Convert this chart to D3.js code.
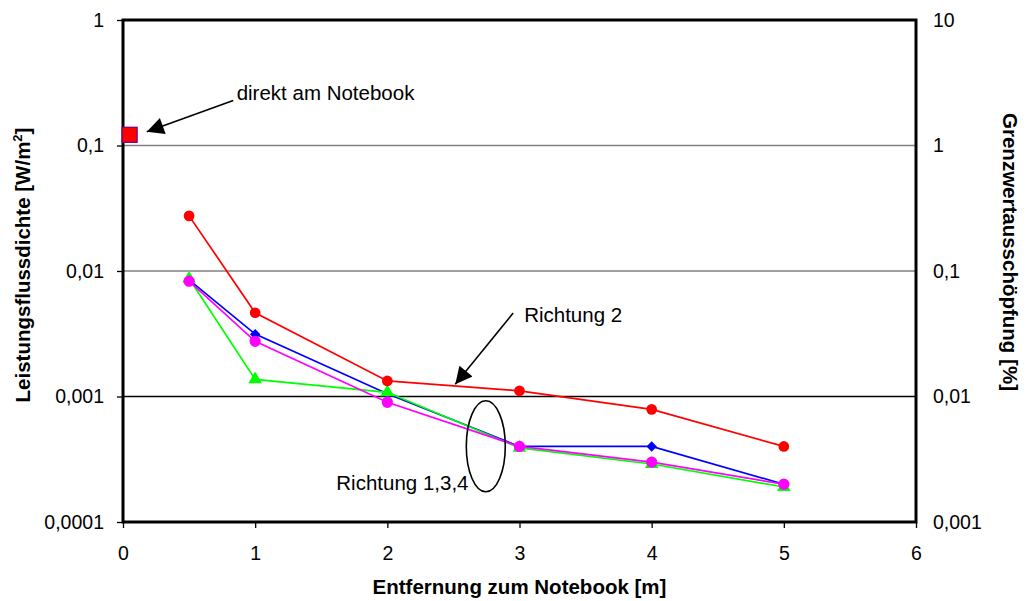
<!DOCTYPE html>
<html>
<head>
<meta charset="utf-8">
<script src="https://cdn.jsdelivr.net/npm/d3@7"></script>
<style>
  body { margin: 0; background: #fff; }
  text { font-family: "Liberation Sans", Arial, sans-serif; }
</style>
</head>
<body>
<div id="chart"></div>
<script>

// distance to notebook [m]
var distances = [0.5, 1, 2, 3, 4, 5];

// power flux density [W/m2] per direction
var richtung1 = [0.0085, 0.00314, 0.00105, 0.0004, 0.0004, 0.0002];
var richtung2 = [0.0275, 0.00465, 0.00133, 0.00111, 0.00079, 0.0004];
var richtung3 = [0.0087, 0.00137, 0.00108, 0.00039, 0.00029, 0.00019];
var richtung4 = [0.0083, 0.00275, 0.0009, 0.0004, 0.0003, 0.0002];

// measurement directly at the notebook
var direkt = [{ x: 0.05, y: 0.1217 }];

var xTicks = [0, 1, 2, 3, 4, 5, 6];
var yTicksLeft = [1, 0.1, 0.01, 0.001, 0.0001];
var yTicksRight = [10, 1, 0.1, 0.01, 0.001];

var margin = {top: 20, right: 110, bottom: 79, left: 123},
    width = 1026 - margin.left - margin.right,
    height = 601 - margin.top - margin.bottom;

var svg = d3.select("#chart")
  .append("svg")
    .attr("width", 1026)
    .attr("height", 601);

var g = svg.append("g")
    .attr("transform", "translate(" + margin.left + "," + margin.top + ")");

var x = d3.scaleLinear().domain([0, 6]).range([0, width]);
var y = d3.scaleLog().domain([0.0001, 1]).range([height, 0]);
var y2 = d3.scaleLog().domain([0.001, 10]).range([height, 0]);

function comma(v) { return String(v).replace(".", ","); }

// gridlines
g.selectAll(".grid")
  .data([0.1, 0.01, 0.001])
  .enter().append("line")
    .attr("x1", 0)
    .attr("x2", width)
    .attr("y1", function(d) { return y(d); })
    .attr("y2", function(d) { return y(d); })
    .attr("stroke", function(d) { return d == 0.001 ? "#000" : "#808080"; })
    .attr("stroke-width", 1.3);

// axes
var xAxis = g.append("g")
  .attr("transform", "translate(0," + height + ")")
  .call(d3.axisBottom(x).tickValues(xTicks).tickSize(6).tickPadding(18).tickFormat(d3.format("d")));

var yAxis = g.append("g")
  .call(d3.axisLeft(y).tickValues(yTicksLeft).tickSize(6).tickPadding(13).tickFormat(comma));

var yAxis2 = g.append("g")
  .attr("transform", "translate(" + width + ",0)")
  .call(d3.axisRight(y2).tickValues(yTicksRight).tickSize(0).tickPadding(17).tickFormat(comma));

[xAxis, yAxis, yAxis2].forEach(function(a) {
  a.select(".domain").remove();
  a.selectAll("text").attr("font-size", 19.5).attr("fill", "#000")
    .style("font-family", "'Liberation Sans', Arial, sans-serif");
  a.selectAll("line").attr("stroke", "#000").attr("stroke-width", 1.3);
});

// frame
g.append("rect")
  .attr("width", width)
  .attr("height", height)
  .attr("fill", "none")
  .attr("stroke", "#000")
  .attr("stroke-width", 3);

// series (diamond = square turned 45 degrees)
var series = [
  { name: "Richtung 1", values: richtung1, color: "#0000ff", shape: d3.symbolSquare, size: 55, rot: 45 },
  { name: "Richtung 3", values: richtung3, color: "#00ff00", shape: d3.symbolTriangle, size: 80, rot: 0 },
  { name: "Richtung 4", values: richtung4, color: "#ff00ff", shape: d3.symbolCircle, size: 100, rot: 0 },
  { name: "Richtung 2", values: richtung2, color: "#ff0000", shape: d3.symbolCircle, size: 90, rot: 0 }
];

var line = d3.line()
  .x(function(d) { return x(d.x); })
  .y(function(d) { return y(d.y); });

series.forEach(function(s) {
  var pts = distances.map(function(d, i) { return { x: d, y: s.values[i] }; });
  g.append("path")
    .datum(pts)
    .attr("d", line)
    .attr("fill", "none")
    .attr("stroke", s.color)
    .attr("stroke-width", 1.7);
  g.selectAll(".pt-" + s.name.replace(" ", ""))
    .data(pts)
    .enter().append("path")
      .attr("transform", function(d) {
        return "translate(" + x(d.x) + "," + y(d.y) + ") rotate(" + s.rot + ")";
      })
      .attr("d", d3.symbol().type(s.shape).size(s.size))
      .attr("fill", s.color);
});

// direct measurement square
g.selectAll(".direkt")
  .data(direkt)
  .enter().append("rect")
    .attr("x", function(d) { return x(d.x) - 7.5; })
    .attr("y", function(d) { return y(d.y) - 7.5; })
    .attr("width", 15)
    .attr("height", 15)
    .attr("fill", "#ff0000")
    .attr("stroke", "#800080")
    .attr("stroke-width", 1.3);

// arrow head
svg.append("defs").append("marker")
    .attr("id", "arrow")
    .attr("viewBox", "0 0 10 10")
    .attr("refX", 10)
    .attr("refY", 5)
    .attr("markerWidth", 24)
    .attr("markerHeight", 17)
    .attr("markerUnits", "userSpaceOnUse")
    .attr("orient", "auto")
  .append("path")
    .attr("d", "M0,0 L10,5 L0,10 z")
    .attr("fill", "#000");

// annotations (positions in data space)
function arrow(x1, y1, x2, y2) {
  g.append("line")
    .attr("x1", x(x1)).attr("y1", y(y1))
    .attr("x2", x(x2)).attr("y2", y(y2))
    .attr("stroke", "#000")
    .attr("stroke-width", 1.6)
    .attr("marker-end", "url(#arrow)");
}
function label(tx, ty, txt) {
  g.append("text")
    .attr("x", x(tx)).attr("y", y(ty))
    .attr("font-size", 20.5)
    .attr("fill", "#000")
    .text(txt);
}

arrow(0.834, 0.2286, 0.18, 0.1285);
label(0.86, 0.232, "direkt am Notebook");

arrow(2.952, 0.00462, 2.514, 0.001253);
label(3.035, 0.00392, "Richtung 2");

g.append("ellipse")
  .attr("cx", x(2.745))
  .attr("cy", y(0.000401))
  .attr("rx", 19.5)
  .attr("ry", 45.5)
  .attr("fill", "none")
  .attr("stroke", "#000")
  .attr("stroke-width", 1.6);
label(1.614, 0.00018, "Richtung 1,3,4");

// axis titles
svg.append("text")
  .attr("x", margin.left + width / 2)
  .attr("y", 594)
  .attr("text-anchor", "middle")
  .attr("font-size", 20.5)
  .attr("font-weight", "bold")
  .text("Entfernung zum Notebook [m]");

var lt = svg.append("text")
  .attr("transform", "translate(30,265) rotate(-90)")
  .attr("text-anchor", "middle")
  .attr("font-size", 20.5)
  .attr("font-weight", "bold");
lt.append("tspan").text("Leistungsflussdichte [W/m");
lt.append("tspan").attr("font-size", 13).attr("dy", -8).text("2");
lt.append("tspan").attr("dy", 8).text("]");

svg.append("text")
  .attr("transform", "translate(1003,252) rotate(90)")
  .attr("text-anchor", "middle")
  .attr("font-size", 20.5)
  .attr("font-weight", "bold")
  .text("Grenzwertausschöpfung [%]");

</script>
</body>
</html>
